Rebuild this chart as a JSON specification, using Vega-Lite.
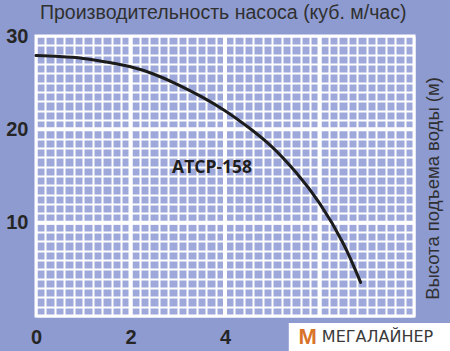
{
  "$schema": "https://vega.github.io/schema/vega-lite/v6.json",
  "autosize": "none",
  "width": 378,
  "height": 280,
  "padding": {"left": 36, "top": 36, "right": 36, "bottom": 35},
  "background": "#8e9bd0",
  "config": {
    "view": {"fill": "#9ea8da", "stroke": "#ffffff", "strokeWidth": 3},
    "font": "Liberation Sans"
  },
  "title": {
    "text": "Производительность насоса (куб. м/час)",
    "anchor": "start",
    "frame": "group",
    "dx": 4,
    "offset": 3,
    "fontSize": 19.5,
    "fontWeight": "normal",
    "color": "#303030",
    "font": "Liberation Sans"
  },
  "datasets": {
    "curve": [
      {"q": 0.0, "h": 27.9},
      {"q": 0.5, "h": 27.8},
      {"q": 1.0, "h": 27.6},
      {"q": 1.5, "h": 27.2},
      {"q": 2.0, "h": 26.7},
      {"q": 2.5, "h": 25.9},
      {"q": 3.0, "h": 24.8},
      {"q": 3.5, "h": 23.5},
      {"q": 4.0, "h": 22.0},
      {"q": 4.5, "h": 20.2},
      {"q": 5.0, "h": 18.1},
      {"q": 5.5, "h": 15.4},
      {"q": 6.0, "h": 12.1},
      {"q": 6.5, "h": 7.8},
      {"q": 6.87, "h": 3.6}
    ],
    "vmajor": [{"q": 2}, {"q": 4}, {"q": 6}],
    "hmajor": [{"h": 10}, {"h": 20}],
    "label": [{"q": 2.88, "h": 15.9, "t": "ATCP-158"}],
    "logo": [{"q": 5.35, "q2": 8.8, "h": -0.75, "h2": -3.9}],
    "logoicon": [{"q": 5.75, "h": -2.3, "t": "M"}],
    "logotext": [{"q": 6.05, "h": -2.3, "t": "МЕГАЛАЙНЕР"}]
  },
  "layer": [
    {
      "data": {"name": "vmajor"},
      "mark": {"type": "rule", "stroke": "#ffffff", "strokeWidth": 4},
      "encoding": {
        "x": {"field": "q", "type": "quantitative", "scale": {"domain": [0, 8], "nice": false, "zero": false}}
      }
    },
    {
      "data": {"name": "hmajor"},
      "mark": {"type": "rule", "stroke": "#ffffff", "strokeWidth": 4},
      "encoding": {
        "y": {"field": "h", "type": "quantitative", "scale": {"domain": [0, 30], "nice": false, "zero": false}}
      }
    },
    {
      "data": {"name": "curve"},
      "mark": {"type": "line", "stroke": "#1c1c1c", "strokeWidth": 3, "interpolate": "natural", "strokeCap": "round"},
      "encoding": {
        "x": {
          "field": "q", "type": "quantitative",
          "scale": {"domain": [0, 8], "nice": false, "zero": false},
          "axis": {
            "title": null,
            "tickCount": 40,
            "grid": true,
            "gridColor": "#ffffff",
            "gridWidth": 2,
            "gridOpacity": 1,
            "domain": false,
            "ticks": false,
            "labelOverlap": false,
            "labelFlush": false,
            "labelPadding": 11,
            "labelFontSize": 20,
            "labelFontWeight": "bold",
            "labelColor": "#262626",
            "labelFont": "Liberation Sans",
            "labelExpr": "datum.value == 0 || datum.value == 2 || datum.value == 4 ? format(datum.value, 'd') : ''"
          }
        },
        "y": {
          "field": "h", "type": "quantitative",
          "scale": {"domain": [0, 30], "nice": false, "zero": false},
          "axis": {
            "title": "Высота подъема воды (м)",
            "titleX": 396,
            "titleY": 152,
            "titleAngle": -90,
            "titleAlign": "center",
            "titleBaseline": "middle",
            "titleFontSize": 18.5,
            "titleFontWeight": "normal",
            "titleColor": "#303030",
            "titleFont": "Liberation Sans",
            "tickCount": 30,
            "grid": true,
            "gridColor": "#ffffff",
            "gridWidth": 2,
            "gridOpacity": 1,
            "domain": false,
            "ticks": false,
            "labelOverlap": false,
            "labelFlush": false,
            "labelPadding": 8,
            "labelFontSize": 20,
            "labelFontWeight": "bold",
            "labelColor": "#262626",
            "labelFont": "Liberation Sans",
            "labelExpr": "datum.value == 10 || datum.value == 20 || datum.value == 30 ? format(datum.value, 'd') : ''"
          }
        }
      }
    },
    {
      "data": {"name": "label"},
      "mark": {"type": "text", "align": "left", "baseline": "middle", "fontSize": 17.5, "fontWeight": "bold", "font": "Open Sans", "color": "#1e1e1e"},
      "encoding": {
        "x": {"field": "q", "type": "quantitative"},
        "y": {"field": "h", "type": "quantitative"},
        "text": {"field": "t"}
      }
    },
    {
      "data": {"name": "logo"},
      "mark": {"type": "rect", "color": "#ffffff", "opacity": 1},
      "encoding": {
        "x": {"field": "q", "type": "quantitative"},
        "x2": {"field": "q2"},
        "y": {"field": "h", "type": "quantitative"},
        "y2": {"field": "h2"}
      }
    },
    {
      "data": {"name": "logoicon"},
      "mark": {"type": "text", "align": "center", "baseline": "middle", "fontSize": 22, "fontWeight": "bold", "font": "Liberation Sans", "color": "#d9732a"},
      "encoding": {
        "x": {"field": "q", "type": "quantitative"},
        "y": {"field": "h", "type": "quantitative"},
        "text": {"field": "t"}
      }
    },
    {
      "data": {"name": "logotext"},
      "mark": {"type": "text", "align": "left", "baseline": "middle", "fontSize": 16, "font": "DejaVu Sans", "color": "#3a3a3a"},
      "encoding": {
        "x": {"field": "q", "type": "quantitative"},
        "y": {"field": "h", "type": "quantitative"},
        "text": {"field": "t"}
      }
    }
  ]
}
